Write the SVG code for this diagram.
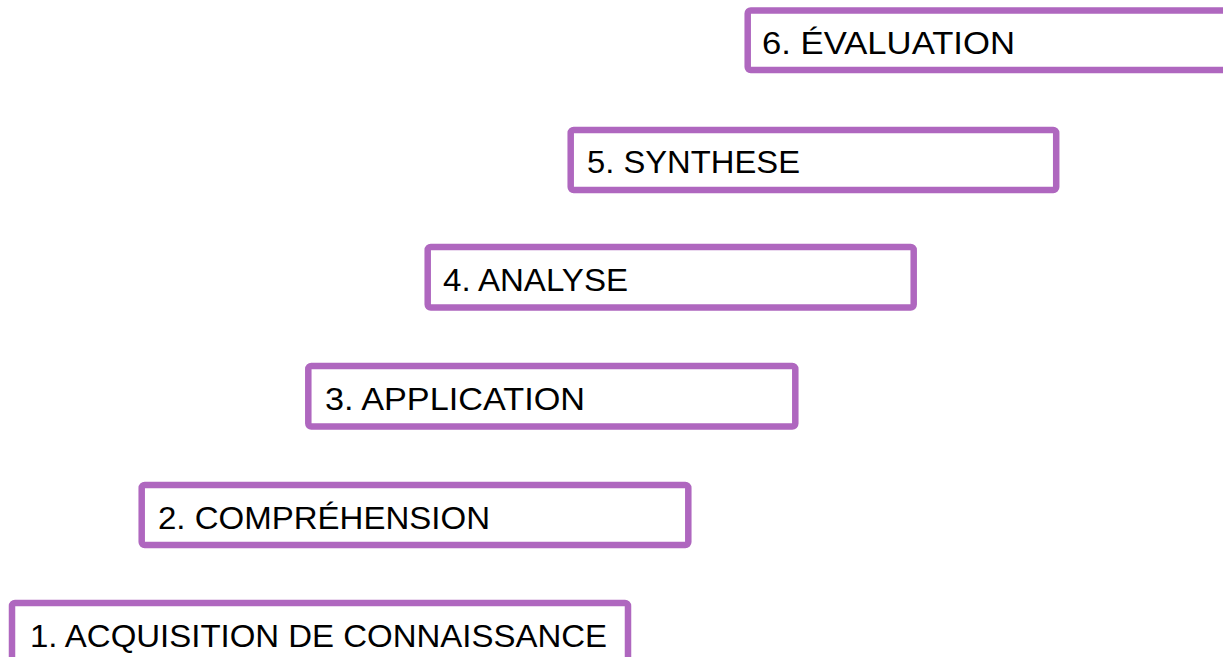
<svg xmlns="http://www.w3.org/2000/svg" width="1223" height="657" viewBox="0 0 1223 657">
<style>
.box{fill:#fff;stroke:#AF67BF;stroke-width:6.5}
.lbl{font-family:"Liberation Sans",Arial,sans-serif;font-size:32px;fill:#000}
</style>
<rect width="1223" height="657" fill="#fff"/>
<g id="n1"><rect class="box" x="12" y="603" width="616" height="70" rx="3"/><text class="lbl" x="30" y="647" textLength="577" lengthAdjust="spacingAndGlyphs">1. ACQUISITION DE CONNAISSANCE</text></g>
<g id="n2"><rect class="box" x="141.7" y="485" width="546.6" height="60" rx="3"/><text class="lbl" x="158" y="529" textLength="332" lengthAdjust="spacingAndGlyphs">2. COMPRÉHENSION</text></g>
<g id="n3"><rect class="box" x="308.3" y="366" width="487" height="60.5" rx="3"/><text class="lbl" x="325" y="410" textLength="260" lengthAdjust="spacingAndGlyphs">3. APPLICATION</text></g>
<g id="n4"><rect class="box" x="427.7" y="247" width="486" height="60.5" rx="3"/><text class="lbl" x="443" y="291" textLength="185" lengthAdjust="spacingAndGlyphs">4. ANALYSE</text></g>
<g id="n5"><rect class="box" x="570.7" y="130" width="485.5" height="60" rx="3"/><text class="lbl" x="587" y="173" textLength="213" lengthAdjust="spacingAndGlyphs">5. SYNTHESE</text></g>
<g id="n6"><rect class="box" x="747.7" y="10.5" width="500" height="59.5" rx="3"/><text class="lbl" x="762" y="54" textLength="253" lengthAdjust="spacingAndGlyphs">6. ÉVALUATION</text></g>
<g id="connectors"/>
</svg>
